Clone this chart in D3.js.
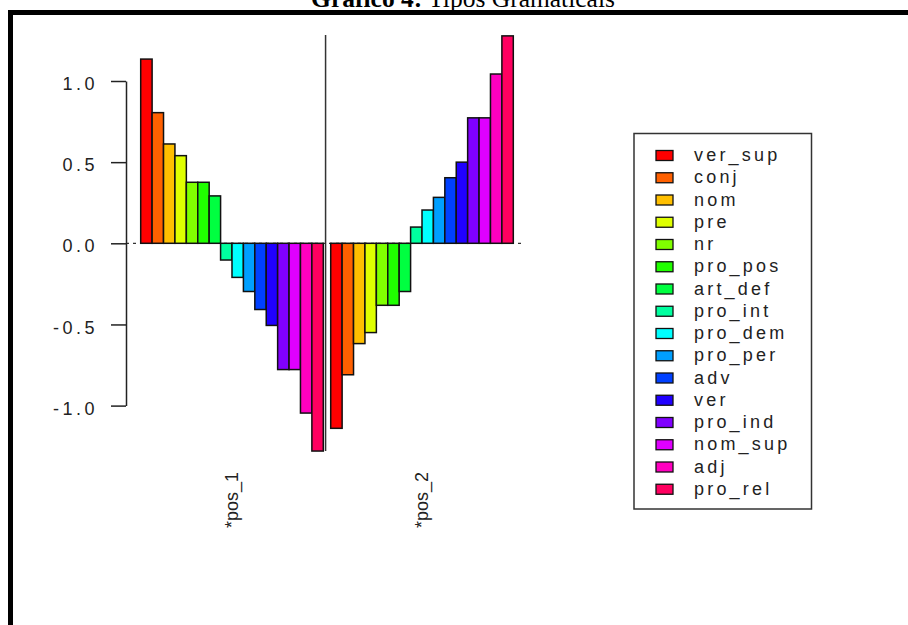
<!DOCTYPE html>
<html>
<head>
<meta charset="utf-8">
<script src="https://cdn.jsdelivr.net/npm/d3@7"></script>
<style>
  html, body { margin: 0; padding: 0; background: #fff; }
  svg { display: block; }
</style>
</head>
<body>
<svg id="chart" width="908" height="625"></svg>
<script>
// ---- data ----
const categories = ["ver_sup","conj","nom","pre","nr","pro_pos","art_def","pro_int",
                    "pro_dem","pro_per","adv","ver","pro_ind","nom_sup","adj","pro_rel"];
const groups = ["*pos_1", "*pos_2"];
const pos1 = [1.135, 0.805, 0.612, 0.540, 0.376, 0.376, 0.292, -0.103,
              -0.210, -0.297, -0.408, -0.506, -0.778, -0.778, -1.046, -1.280];
const pos2 = [-1.140, -0.810, -0.618, -0.550, -0.382, -0.382, -0.297, 0.100,
              0.205, 0.283, 0.404, 0.500, 0.773, 0.773, 1.043, 1.278];
const series = [pos1, pos2];
const colors = ["#FF0000","#FF6000","#FFBF00","#DFFF00","#80FF00","#20FF00","#00FF40","#00FF9F",
                "#00FFFF","#009FFF","#0040FF","#2000FF","#8000FF","#DF00FF","#FF00BF","#FF0060"];
const yTicks = [-1.0, -0.5, 0.0, 0.5, 1.0];
const yTickLabels = ["-1.0", "-0.5", "0.0", "0.5", "1.0"];
const titleBold = "Gráfico 4:";
const titleRest = " Tipos Gramaticais";

// ---- layout ----
const svg = d3.select("#chart");
const groupStep = 16.65;   // bar units between group starts
const y = d3.scaleLinear().domain([-1, 1]).range([405.6, 81]);
const x = d3.scaleLinear().domain([0, groupStep + 16]).range([140.7, 513.3]);
const bw = x(1) - x(0);

svg.append("rect").attr("width", 908).attr("height", 625).attr("fill", "#fff");

// title (top cut off, as in the source)
const title = svg.append("text")
  .attr("x", 463).attr("y", 6.5)
  .attr("text-anchor", "middle")
  .attr("font-family", "'Liberation Serif', 'Times New Roman', serif")
  .attr("font-size", 25.5)
  .attr("fill", "#000");
title.append("tspan").attr("font-weight", "bold").text(titleBold);
title.append("tspan").text(titleRest);

// frame lines
svg.append("rect").attr("x", 8).attr("y", 10).attr("width", 900).attr("height", 5).attr("fill", "#000");
svg.append("rect").attr("x", 8).attr("y", 10).attr("width", 5).attr("height", 615).attr("fill", "#000");

// zero dashed line
svg.append("line")
  .attr("x1", 126).attr("x2", 522)
  .attr("y1", y(0)).attr("y2", y(0))
  .attr("stroke", "#333").attr("stroke-width", 1.2)
  .attr("stroke-dasharray", "3,4");

// bars
groups.forEach((g, gi) => {
  const vals = series[gi];
  svg.append("g").selectAll("rect")
    .data(vals)
    .join("rect")
    .attr("x", (d, i) => x(gi * groupStep + i))
    .attr("width", bw)
    .attr("y", d => Math.min(y(d), y(0)))
    .attr("height", d => Math.abs(y(d) - y(0)))
    .attr("fill", (d, i) => colors[i])
    .attr("stroke", "#111")
    .attr("stroke-width", 1.5);
});

// separator line between groups
svg.append("line")
  .attr("x1", x(16.2)).attr("x2", x(16.2))
  .attr("y1", 35).attr("y2", 451)
  .attr("stroke", "#333").attr("stroke-width", 1.5);

// y axis
const yAxis = d3.axisLeft(y)
  .tickValues(yTicks)
  .tickFormat((d, i) => yTickLabels[i])
  .tickSize(15)
  .tickSizeOuter(0)
  .tickPadding(13);
const ax = svg.append("g").attr("transform", "translate(126,0)").call(yAxis);
ax.select(".domain").attr("stroke", "#222").attr("stroke-width", 1.5);
ax.selectAll(".tick line").attr("stroke", "#222").attr("stroke-width", 1.5);
ax.selectAll(".tick text")
  .attr("font-family", "'Liberation Sans', Arial, sans-serif")
  .attr("font-size", 18)
  .attr("letter-spacing", "3.5px")
  .attr("fill", "#222")
  .attr("dy", "0.48em");

// group labels (rotated)
groups.forEach((g, gi) => {
  const cx = x(gi * groupStep + 8);
  svg.append("text")
    .attr("transform", `translate(${cx + 6},472) rotate(-90)`)
    .attr("text-anchor", "end")
    .attr("font-family", "'Liberation Sans', Arial, sans-serif")
    .attr("font-size", 18)
    .attr("fill", "#222")
    .text(g);
});

// legend
const lg = svg.append("g");
lg.append("rect")
  .attr("x", 634).attr("y", 133.5).attr("width", 177.5).attr("height", 375.5)
  .attr("fill", "#fff").attr("stroke", "#333").attr("stroke-width", 1.5);
const rowY = i => 155.5 + 22.25 * i;
const items = lg.selectAll("g.item").data(categories).join("g").attr("class", "item");
items.append("rect")
  .attr("x", 656).attr("y", (d, i) => rowY(i) - 5)
  .attr("width", 17).attr("height", 10)
  .attr("fill", (d, i) => colors[i])
  .attr("stroke", "#111").attr("stroke-width", 1.3);
items.append("text")
  .attr("x", 694).attr("y", (d, i) => rowY(i) + 5.5)
  .attr("font-family", "'Liberation Sans', Arial, sans-serif")
  .attr("font-size", 18)
  .attr("letter-spacing", "3.2px")
  .attr("fill", "#222")
  .text(d => d);
</script>
</body>
</html>
